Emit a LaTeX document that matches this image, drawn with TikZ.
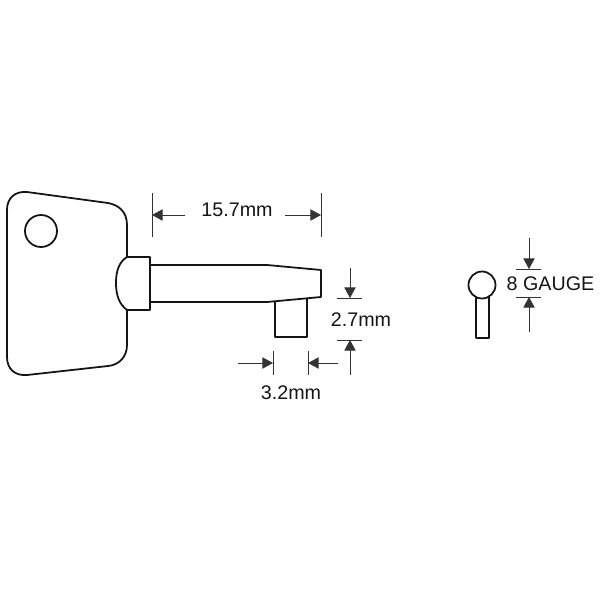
\documentclass[tikz,border=0pt]{standalone}
\usepackage{fontspec}
\setmainfont{Liberation Sans}
\usetikzlibrary{arrows.meta}
\definecolor{KeyLine}{rgb}{.08,.08,.08}
\definecolor{DimLine}{rgb}{.2,.2,.2}
\tikzset{
  keyline/.style={draw=KeyLine, line width=1.25pt, line join=round},
  tickline/.style={draw=DimLine, line width=0.6pt},
  dimarrow/.style={draw=DimLine, line width=0.6pt, -{Triangle[length=7.5pt,width=8pt]}},
  dimlabel/.style={font=\fontsize{14}{16}\selectfont, text=KeyLine, inner sep=0pt}
}
% \DimTick{<x1>}{<y1>}{<x2>}{<y2>}
\newcommand{\DimTick}[4]{\draw[tickline] (#1,#2) -- (#3,#4);}
% \DimArrow{<tail name>}{<tail>}{<tip name>}{<tip>}
\newcommand{\DimArrow}[4]{%
\coordinate (#1) at (#2);
\coordinate (#3) at (#4);
\draw[dimarrow] (#1) -- (#3);
}
\begin{document}
\begin{tikzpicture}[x=0.025cm, y=-0.025cm]
  \useasboundingbox (0,0) rectangle (600,600);
  % head:
  \draw[keyline] (127,257) -- (127,225) .. controls (127,212) and (119,205) .. (108,203)
  -- (27,192) .. controls (15,191) and (7,198) .. (7,210) -- (7,357)
  .. controls (7,369) and (15,376) .. (27,375) -- (108,366)
  .. controls (119,365) and (127,357) .. (127,345) -- (127,310);
  \draw[keyline] (41,231) circle (16);
  %
  % collar:
  \draw[keyline] (127,257) -- (150,257) -- (150,310) -- (127,310)
  .. controls (119,304) and (116,295) .. (116,283) .. controls (116,271) and (119,262) .. (127,257) -- cycle;
  %
  % shank and bit:
  \draw[keyline] (150,265) -- (267,265) -- (321,270) -- (321,297) -- (267,302) -- (150,302);
  \draw[keyline] (275,302) -- (275,337) -- (307,337) -- (307,299);
  %
  % gauge:
  \draw[keyline] (482,285) circle (13.5);
  \draw[keyline] (476,297) -- (476,338) -- (489,338) -- (489,297);
  %
  \node[dimlabel] (len) at (237,210) {15.7mm};
  \node[dimlabel] (depth) at (361,320) {2.7mm};
  \node[dimlabel] (width) at (291,393) {3.2mm};
  \node[dimlabel] (gauge) at (550.5,284) {8 GAUGE};
  %
  \DimTick{152}{193}{152}{237}
  \DimTick{321}{193}{321}{237}
  \DimArrow{lenA}{185,215}{lenB}{152,215}
  \DimArrow{lenC}{285,215}{lenD}{321,215}
  %
  \DimTick{337}{298}{362}{298}
  \DimTick{337}{340}{362}{340}
  \DimArrow{depthA}{350,268}{depthB}{350,298}
  \DimArrow{depthC}{350,375}{depthD}{350,340}
  %
  \DimTick{273}{351}{273}{375}
  \DimTick{308}{351}{308}{375}
  \DimArrow{widthA}{238,363}{widthB}{273,363}
  \DimArrow{widthC}{338,363}{widthD}{308,363}
  %
  \DimTick{516}{269}{541}{269}
  \DimTick{516}{297}{541}{297}
  \DimArrow{gaugeA}{529,238}{gaugeB}{529,269}
  \DimArrow{gaugeC}{529,332}{gaugeD}{529,297}
\end{tikzpicture}
\end{document}
